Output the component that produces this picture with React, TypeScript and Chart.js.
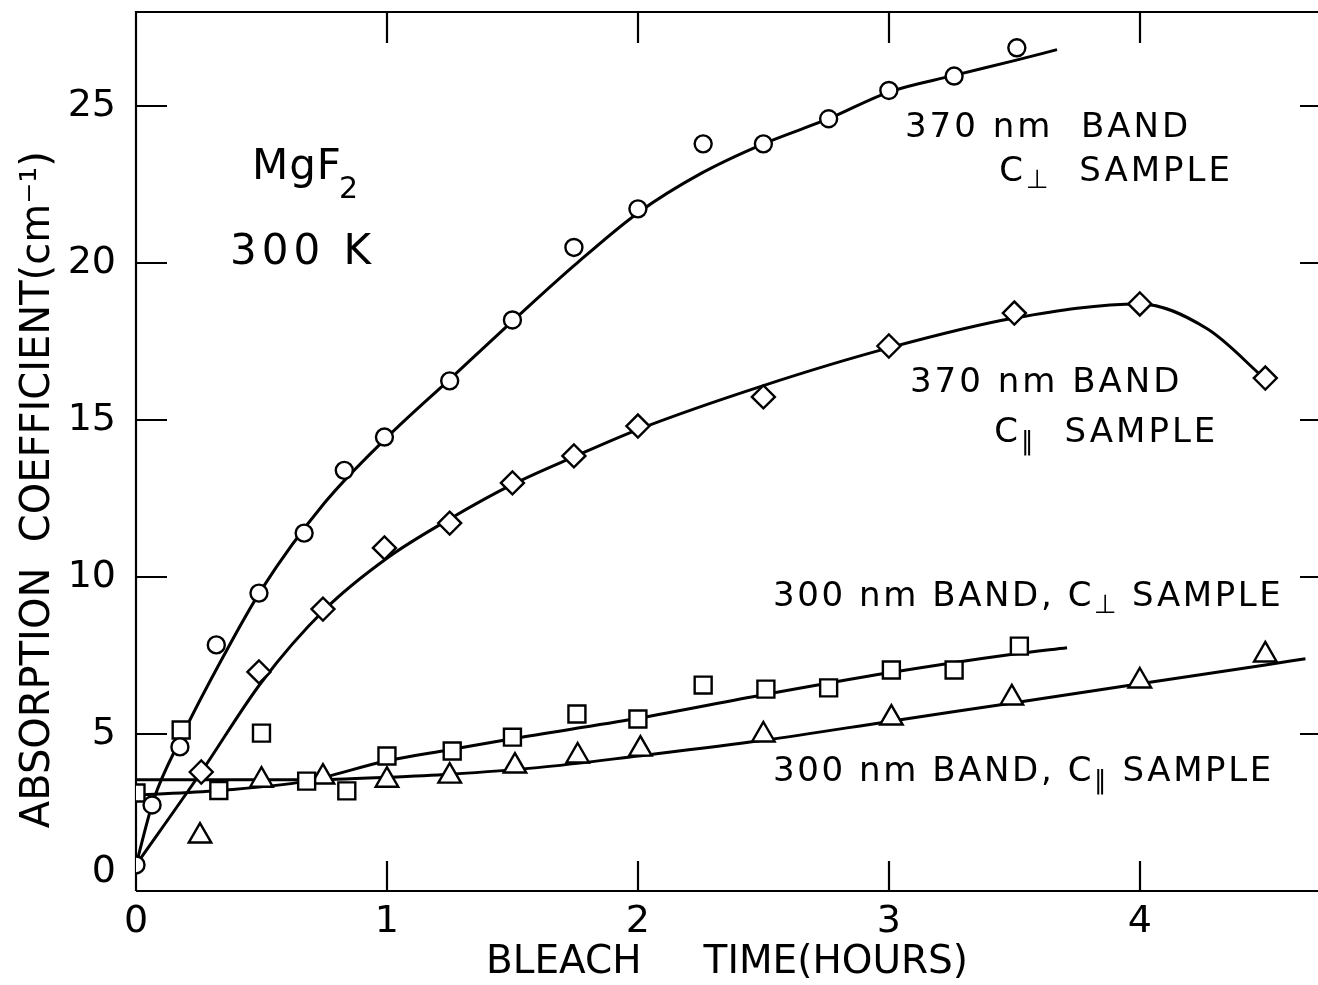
import React, { useEffect, useRef } from "react";
import { Chart, registerables } from "chart.js";

Chart.register(...registerables);

const FONT = '"DejaVu Sans", "Liberation Sans", sans-serif';

// ---- 370 nm band, C-perpendicular sample (circles) ----
const perp370Time = [0, 0.064, 0.175, 0.32, 0.49, 0.67, 0.83, 0.99, 1.25, 1.5, 1.745, 2.0, 2.26, 2.5, 2.76, 3.0, 3.26, 3.51];
const perp370Abs = [0.83, 2.74, 4.59, 7.84, 9.49, 11.4, 13.4, 14.46, 16.25, 18.19, 20.5, 21.73, 23.8, 23.8, 24.6, 25.5, 25.96, 26.86];
const perp370FitTime = [0, 0.07, 0.175, 0.35, 0.5, 0.75, 1.0, 1.25, 1.5, 1.75, 2.0, 2.25, 2.5, 2.76, 3.0, 3.26, 3.5, 3.67];
const perp370FitAbs = [0.83, 2.9, 4.8, 7.5, 9.6, 12.35, 14.45, 16.3, 18.15, 19.95, 21.6, 22.85, 23.8, 24.6, 25.45, 25.98, 26.45, 26.8];

// ---- 370 nm band, C-parallel sample (diamonds) ----
const par370Time = [0.26, 0.49, 0.745, 0.99, 1.25, 1.5, 1.745, 2.0, 2.5, 3.0, 3.5, 4.0, 4.5];
const par370Abs = [3.79, 6.98, 8.98, 10.93, 11.72, 13.0, 13.86, 14.81, 15.74, 17.36, 18.41, 18.7, 16.34];
const par370FitTime = [0, 0.26, 0.5, 0.75, 1.0, 1.25, 1.5, 1.75, 2.0, 2.5, 3.0, 3.5, 4.0, 4.27, 4.5];
const par370FitAbs = [0.83, 3.79, 6.65, 8.95, 10.6, 11.85, 12.95, 13.85, 14.7, 16.1, 17.3, 18.25, 18.7, 17.9, 16.3];

// ---- 300 nm band, C-perpendicular sample (squares) ----
const perp300Time = [0, 0.18, 0.33, 0.5, 0.68, 0.84, 1.0, 1.26, 1.5, 1.757, 2.0, 2.26, 2.51, 2.76, 3.01, 3.26, 3.52];
const perp300Abs = [3.12, 5.13, 3.2, 5.03, 3.5, 3.19, 4.3, 4.46, 4.9, 5.64, 5.48, 6.56, 6.43, 6.47, 7.04, 7.04, 7.8];
const perp300FitTime = [0, 0.33, 0.68, 1.0, 1.25, 1.5, 2.0, 2.5, 3.0, 3.5, 3.71];
const perp300FitAbs = [3.05, 3.2, 3.5, 4.15, 4.5, 4.85, 5.5, 6.25, 6.95, 7.55, 7.75];

// ---- 300 nm band, C-parallel sample (triangles) ----
const par300Time = [0.255, 0.5, 0.745, 1.0, 1.25, 1.51, 1.76, 2.01, 2.5, 3.01, 3.49, 4.0, 4.5];
const par300Abs = [1.75, 3.53, 3.63, 3.53, 3.66, 3.98, 4.3, 4.52, 4.97, 5.51, 6.15, 6.69, 7.52];
const par300FitTime = [0, 0.5, 0.8, 1.0, 1.25, 1.6, 2.0, 2.5, 3.0, 3.5, 4.0, 4.5, 4.66];
const par300FitAbs = [3.54, 3.54, 3.56, 3.62, 3.72, 3.93, 4.3, 4.8, 5.4, 6.0, 6.6, 7.2, 7.4];

// ---- axes ----
const xMin = 0;
const xMax = 4.71;
const yMin = 0;
const yMax = 28;
const xStep = 1;
const yStep = 5;
const xTitle = "BLEACH     TIME(HOURS)";
const yTitle = "ABSORPTION  COEFFICIENT(cm\u207B\u00B9)";

type Piece = { text: string; size: number; dy?: number; dx?: number; ls?: number };
type Note = { x: number; y: number; pieces: Piece[] };

const NS = 34;
const notes: Note[] = [
  { x: 0.462, y: 23.03, pieces: [{ text: "MgF", size: 42, ls: 1 }, { text: "2", size: 30, dy: 22, dx: -3, ls: 0 }] },
  { x: 0.375, y: 20.33, pieces: [{ text: "300 K", size: 42, ls: 5 }] },
  { x: 3.064, y: 24.31, pieces: [{ text: "370 nm  BAND", size: NS }] },
  { x: 3.44, y: 22.9, pieces: [{ text: "C", size: NS }, { text: "\u22A5", size: 26, dy: 9 }, { text: "  SAMPLE", size: NS }] },
  { x: 3.084, y: 16.18, pieces: [{ text: "370 nm BAND", size: NS }] },
  { x: 3.42, y: 14.59, pieces: [{ text: "C", size: NS }, { text: "\u2225", size: 26, dy: 10 }, { text: "  SAMPLE", size: NS }] },
  { x: 2.538, y: 9.37, pieces: [{ text: "300 nm BAND, C", size: NS, ls: 2.6 }, { text: "\u22A5", size: 26, dy: 9, ls: 2 }, { text: " SAMPLE", size: NS, ls: 2.6 }] },
  { x: 2.538, y: 3.79, pieces: [{ text: "300 nm BAND, C", size: NS, ls: 2.6 }, { text: "\u2225", size: 26, dy: 10, ls: 2 }, { text: " SAMPLE", size: NS, ls: 2.6 }] },
];

const toPts = (xs: number[], ys: number[]) => xs.map((x, i) => ({ x, y: ys[i] }));

const framePlugin = {
  id: "frameTicks",
  beforeDraw(chart: any) {
    (chart.ctx as any).letterSpacing = "0px";
  },
  beforeDatasetsDraw(chart: any) {
    const { ctx, chartArea: a, scales } = chart;
    const xs = scales.x;
    const ys = scales.y;
    ctx.save();
    ctx.strokeStyle = "#000";
    ctx.lineWidth = 2.2;
    ctx.beginPath();
    ctx.moveTo(a.left, a.bottom);
    ctx.lineTo(a.left, a.top);
    ctx.lineTo(a.right, a.top);
    ctx.moveTo(a.left, a.bottom);
    ctx.lineTo(a.right, a.bottom);
    xs.ticks.forEach((t: any) => {
      if (t.value === xMin) return;
      const px = Math.round(xs.getPixelForValue(t.value));
      ctx.moveTo(px, a.bottom);
      ctx.lineTo(px, a.bottom - 30);
      ctx.moveTo(px, a.top);
      ctx.lineTo(px, a.top + 31);
    });
    ys.ticks.forEach((t: any) => {
      if (t.value === yMin) return;
      const py = Math.round(ys.getPixelForValue(t.value));
      ctx.moveTo(a.left, py);
      ctx.lineTo(a.left + 31, py);
      ctx.moveTo(a.right, py);
      ctx.lineTo(a.right - 18, py);
    });
    ctx.stroke();
    ctx.restore();
  },
  afterDatasetsDraw(chart: any) {
    const { ctx, scales } = chart;
    ctx.save();
    ctx.fillStyle = "#000";
    ctx.textBaseline = "middle";
    ctx.textAlign = "left";
    for (const n of notes) {
      let px = scales.x.getPixelForValue(n.x);
      const py = scales.y.getPixelForValue(n.y);
      for (const p of n.pieces) {
        ctx.font = `${p.size}px ${FONT}`;
        (ctx as any).letterSpacing = `${p.ls ?? 3}px`;
        px += p.dx ?? 0;
        ctx.fillText(p.text, px, py + (p.dy ?? 0));
        px += ctx.measureText(p.text).width;
      }
    }
    ctx.restore();
  },
};

export default function App() {
  const ref = useRef<HTMLCanvasElement | null>(null);
  useEffect(() => {
    document.body.style.margin = "0";
    const canvas = ref.current;
    if (!canvas) return;
    const marker = (pointStyle: string, r: number) => ({
      showLine: false,
      pointStyle,
      pointRadius: r,
      pointHoverRadius: r,
      pointBorderWidth: 2.4,
      pointBorderColor: "#000",
      pointBackgroundColor: "#fff",
      order: 0,
    });
    const fit = {
      showLine: true,
      pointRadius: 0,
      borderColor: "#000",
      borderWidth: 3,
      cubicInterpolationMode: "monotone",
      fill: false,
      order: 1,
    };
    const zeroPad = (s: any) => {
      s.paddingTop = 0;
      s.paddingBottom = 0;
      s.paddingLeft = 0;
      s.paddingRight = 0;
    };
    const chart = new Chart(canvas, {
      type: "scatter",
      data: {
        datasets: [
          { label: "370 nm C⊥ fit", data: toPts(perp370FitTime, perp370FitAbs), ...fit },
          { label: "370 nm C∥ fit", data: toPts(par370FitTime, par370FitAbs), ...fit },
          { label: "300 nm C⊥ fit", data: toPts(perp300FitTime, perp300FitAbs), ...fit },
          { label: "300 nm C∥ fit", data: toPts(par300FitTime, par300FitAbs), ...fit },
          { label: "370 nm BAND C⊥ SAMPLE", data: toPts(perp370Time, perp370Abs), ...marker("circle", 8.5) },
          { label: "370 nm BAND C∥ SAMPLE", data: toPts(par370Time, par370Abs), ...marker("rectRot", 11.5) },
          { label: "300 nm BAND, C⊥ SAMPLE", data: toPts(perp300Time, perp300Abs), ...marker("rect", 12) },
          { label: "300 nm BAND, C∥ SAMPLE", data: toPts(par300Time, par300Abs), ...marker("triangle", 13) },
        ] as any,
      },
      options: {
        responsive: false,
        devicePixelRatio: 1,
        animation: false,
        layout: { autoPadding: false, padding: { top: 12, right: 0, bottom: 0, left: 0 } },
        plugins: { legend: { display: false }, tooltip: { enabled: false } },
        scales: {
          x: {
            type: "linear",
            min: xMin,
            max: xMax,
            grid: { display: false, drawTicks: false },
            border: { display: false },
            ticks: {
              stepSize: xStep,
              includeBounds: false,
              color: "#000",
              padding: 8,
              maxRotation: 0,
              font: { family: FONT, size: 38, lineHeight: 1.2 },
              callback: (v: any) => String(v),
            },
            title: {
              display: true,
              text: xTitle,
              color: "#000",
              font: { family: FONT, size: 39, lineHeight: 1 },
              padding: { top: 0, bottom: 3 },
            },
            afterFit: (s: any) => {
              s.height = 94;
              zeroPad(s);
            },
          },
          y: {
            type: "linear",
            min: yMin,
            max: yMax,
            grid: { display: false, drawTicks: false },
            border: { display: false },
            ticks: {
              stepSize: yStep,
              includeBounds: false,
              color: "#000",
              padding: 20,
              font: { family: FONT, size: 38, lineHeight: 1 },
              callback: (v: any) => (v === yMin ? [String(v), ""] : String(v)),
            },
            title: {
              display: true,
              text: yTitle + "      ",
              color: "#000",
              font: { family: FONT, size: 40, lineHeight: 1 },
              padding: { top: 19, bottom: 0 },
            },
            afterFit: (s: any) => {
              s.width = 136;
              zeroPad(s);
            },
          },
        },
      },
      plugins: [framePlugin],
    } as any);
    return () => chart.destroy();
  }, []);
  return (
    <div style={{ width: 1318, height: 985 }}>
      <canvas ref={ref} width={1318} height={985} style={{ display: "block" }} />
    </div>
  );
}
